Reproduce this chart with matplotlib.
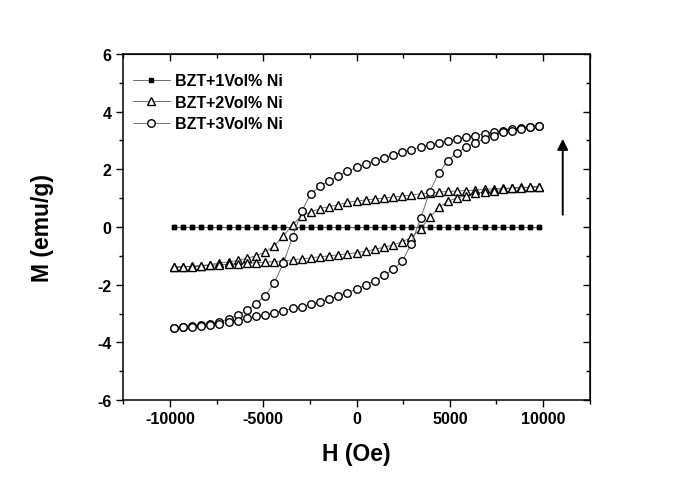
import matplotlib
matplotlib.use('Agg')
import matplotlib.pyplot as plt
from matplotlib.ticker import MultipleLocator

plt.rcParams['font.family'] = ['Liberation Sans', 'DejaVu Sans']
plt.rcParams['font.weight'] = 'bold'
plt.rcParams['axes.unicode_minus'] = False

# Campo magnético (Oe): rama descendente y ascendente
H_down = [9800, 9310, 8820, 8330, 7840, 7350, 6860, 6370, 5880, 5390, 4900,
          4410, 3920, 3430, 2940, 2450, 1960, 1470, 980, 490, 0,
          -490, -980, -1470, -1960, -2450, -2940, -3430, -3920, -4410, -4900,
          -5390, -5880, -6370, -6860, -7350, -7840, -8330, -8820, -9310, -9800]
H_up = [-9800, -9310, -8820, -8330, -7840, -7350, -6860, -6370, -5880, -5390, -4900,
        -4410, -3920, -3430, -2940, -2450, -1960, -1470, -980, -490, 0,
        490, 980, 1470, 1960, 2450, 2940, 3430, 3920, 4410, 4900,
        5390, 5880, 6370, 6860, 7350, 7840, 8330, 8820, 9310, 9800]

# BZT+1Vol% Ni
M1_down = [0.0] * 41
M1_up = [0.0] * 41

# BZT+2Vol% Ni
M2_down = [1.40, 1.38, 1.37, 1.35, 1.34, 1.32, 1.30, 1.28, 1.26, 1.25, 1.23,
           1.21, 1.18, 1.15, 1.11, 1.08, 1.03, 1.00, 0.97, 0.94, 0.90,
           0.85, 0.77, 0.71, 0.64, 0.52, 0.38, 0.08, -0.31, -0.66, -0.87,
           -1.00, -1.08, -1.16, -1.21, -1.25, -1.30, -1.34, -1.36, -1.38, -1.40]
M2_up = [-1.40, -1.38, -1.37, -1.35, -1.33, -1.31, -1.29, -1.27, -1.26, -1.24, -1.22,
         -1.20, -1.17, -1.14, -1.10, -1.07, -1.03, -1.00, -0.96, -0.93, -0.89,
         -0.84, -0.77, -0.70, -0.62, -0.51, -0.36, -0.06, 0.33, 0.68, 0.89,
         1.01, 1.09, 1.17, 1.22, 1.26, 1.30, 1.34, 1.36, 1.38, 1.40]

# BZT+3Vol% Ni
M3_down = [3.51, 3.48, 3.44, 3.40, 3.34, 3.29, 3.23, 3.17, 3.12, 3.06, 2.99,
           2.92, 2.85, 2.78, 2.68, 2.60, 2.50, 2.40, 2.30, 2.20, 2.07,
           1.93, 1.77, 1.60, 1.42, 1.15, 0.55, -0.35, -1.25, -1.94, -2.38,
           -2.66, -2.88, -3.06, -3.19, -3.28, -3.35, -3.40, -3.44, -3.47, -3.51]
M3_up = [-3.51, -3.48, -3.45, -3.43, -3.40, -3.35, -3.30, -3.24, -3.17, -3.10, -3.04,
         -2.97, -2.90, -2.82, -2.76, -2.68, -2.59, -2.49, -2.39, -2.28, -2.14,
         -2.00, -1.86, -1.68, -1.47, -1.18, -0.58, 0.30, 1.22, 1.87, 2.30,
         2.58, 2.77, 2.92, 3.06, 3.16, 3.28, 3.34, 3.39, 3.45, 3.51]

labels = ['BZT+1Vol% Ni', 'BZT+2Vol% Ni', 'BZT+3Vol% Ni']

fig = plt.figure(figsize=(6.85, 4.81), dpi=100)
ax = fig.add_axes([0.180, 0.166, 0.681, 0.720])

line_kw = dict(color='0.35', linewidth=0.6, markeredgecolor='black')
ax.plot(H_down + H_up, M1_down + M1_up, marker='s', markersize=2.6,
        markerfacecolor='black', label=labels[0], **line_kw)
ax.plot(H_down + H_up, M2_down + M2_up, marker='^', markersize=5.8,
        markerfacecolor='white', markeredgewidth=1.0, label=labels[1], **line_kw)
ax.plot(H_down + H_up, M3_down + M3_up, marker='o', markersize=5.4,
        markerfacecolor='white', markeredgewidth=1.0, label=labels[2], **line_kw)

# Flecha
ax.annotate('', xy=(11050, 3.15), xytext=(11050, 0.33),
            arrowprops=dict(arrowstyle='-|>', lw=1.4, color='black',
                            mutation_scale=16))

ax.set_xlim(-12500, 12500)
ax.set_ylim(-6, 6)
ax.xaxis.set_major_locator(MultipleLocator(5000))
ax.xaxis.set_minor_locator(MultipleLocator(2500))
ax.yaxis.set_major_locator(MultipleLocator(2))
ax.yaxis.set_minor_locator(MultipleLocator(1))

for s in ax.spines.values():
    s.set_linewidth(1.1)

ax.tick_params(which='both', direction='out', top=False, right=False,
               width=1.0, labelsize=11.5)
ax.tick_params(which='major', length=5)
ax.tick_params(which='minor', length=3)
ax.tick_params(axis='x', pad=2.5)

# Marcas internas arriba y a la derecha
axt = ax.secondary_xaxis('top')
axt.xaxis.set_major_locator(MultipleLocator(5000))
axt.xaxis.set_minor_locator(MultipleLocator(2500))
axt.tick_params(which='both', direction='in', labeltop=False, width=1.0)
axt.tick_params(which='major', length=5)
axt.tick_params(which='minor', length=3)
axr = ax.secondary_yaxis('right')
axr.yaxis.set_major_locator(MultipleLocator(2))
axr.yaxis.set_minor_locator(MultipleLocator(1))
axr.tick_params(which='both', direction='in', labelright=False, width=1.0)
axr.tick_params(which='major', length=5)
axr.tick_params(which='minor', length=3)

for lab in ax.get_xticklabels() + ax.get_yticklabels():
    lab.set_fontweight('bold')

ax.set_xlabel('H (Oe)', fontsize=16.5, fontweight='bold', labelpad=12)
ax.set_ylabel('M (emu/g)', fontsize=16.5, fontweight='bold', labelpad=31)

ax.legend(loc='upper left', bbox_to_anchor=(-0.01, 0.985), frameon=False,
          handlelength=2.3, handletextpad=0.3, labelspacing=0.4,
          prop={'size': 11.5, 'weight': 'bold'})

fig.savefig('out.png', dpi=100)
